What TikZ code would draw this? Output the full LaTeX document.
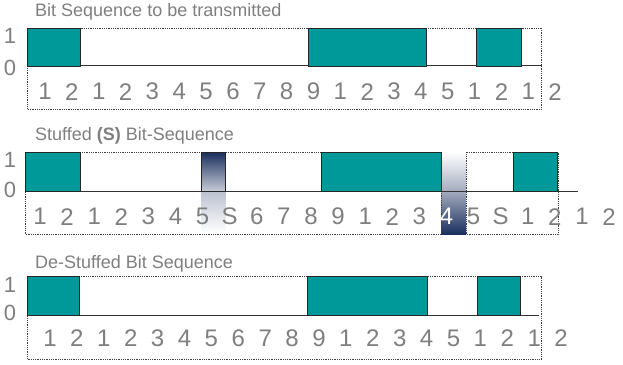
\documentclass[tikz,border=0pt]{standalone}
\usepackage{fontspec}
\setmainfont{Liberation Sans}
\definecolor{tealc}{HTML}{009999}
\definecolor{txtgray}{HTML}{7F7F7F}
\definecolor{navyc}{HTML}{1B2F5E}
\begin{document}
\begin{tikzpicture}[x=1pt,y=-1pt,
  frame/.style={draw=black!75, densely dotted, line width=0.8pt},
  baseln/.style={draw=black!80, line width=1pt},
  bitbox/.style={fill=tealc, draw=black!85, line width=1pt},
  digit/.style={text=txtgray, font=\fontsize{24}{24}\selectfont, inner sep=0pt},
  lvl/.style={text=txtgray, font=\fontsize{22}{22}\selectfont, inner sep=0pt},
  ttl/.style={text=txtgray, font=\fontsize{18}{18}\selectfont, inner sep=0pt, anchor=base west}]
\useasboundingbox (0,0) rectangle (623,364);

% ---------- Panel 1 ----------
\node[ttl] (t1) at (35,16.8) {Bit Sequence to be transmitted};
\draw[frame] (27.7,28.3) rectangle (541.7,109);
\draw[baseln] (27.7,65.5) -- (541.7,65.5);
\draw[bitbox] (27.7,28.3) rectangle (80.7,66);
\draw[bitbox] (308.3,28.3) rectangle (426.7,66);
\draw[bitbox] (476.7,28.3) rectangle (521,66);
\node[lvl] (p1one) at (10,36) {1};
\node[lvl] (p1zero) at (10,67.5) {0};
\foreach \d [count=\i from 0] in {1,2,1,2,3,4,5,6,7,8,9,1,2,3,4,5,1,2,1,2}
  \node[digit] (a\i) at (45+26.85*\i,91.7) {\d};

% ---------- Panel 2 ----------
\node[ttl] (t2) at (35,140.7) {Stuffed \textbf{(S)} Bit-Sequence};
\draw[frame] (25,152.3) rectangle (558.7,234.3);
\shade[top color=navyc, bottom color=navyc!25!white] (201,152.3) rectangle (225.7,191);
\shade[top color=navyc!30!white, bottom color=white] (201,191) rectangle (225.7,233);
\shade[top color=white, bottom color=navyc!40!white] (441.7,152.3) rectangle (466,191);
\shade[top color=navyc!40!white, bottom color=navyc] (441.7,191) rectangle (466,234.3);
\draw[frame] (466,152.3) -- (466,234.3);
\draw[frame] (441.7,191) -- (441.7,234.3);
\draw[baseln] (25,191) -- (578,191);
\draw[draw=black!85, line width=1pt] (201,152.3) rectangle (225.7,191);
\draw[bitbox] (25,152.3) rectangle (80,191);
\draw[bitbox] (321.7,152.3) rectangle (441.7,191);
\draw[bitbox] (513.3,152.3) rectangle (557.7,191);
\node[lvl] (p2one) at (10,160) {1};
\node[lvl] (p2zero) at (10,189.5) {0};
\foreach \d/\c [count=\i from 0] in {1/txtgray,2/txtgray,1/txtgray,2/txtgray,3/txtgray,4/txtgray,5/txtgray,S/txtgray,6/txtgray,7/txtgray,8/txtgray,9/txtgray,1/txtgray,2/txtgray,3/txtgray,4/white,5/txtgray,S/txtgray,1/txtgray,2/txtgray,1/txtgray,2/txtgray}
  \node[digit, text=\c] (b\i) at (40+27.1*\i,216.7) {\d};

% ---------- Panel 3 ----------
\node[ttl] (t3) at (35,268.3) {De-Stuffed Bit Sequence};
\draw[frame] (27,276.7) rectangle (541.7,359);
\draw[baseln] (27,315) -- (539,315);
\draw[bitbox] (27,276.7) rectangle (79.3,315.5);
\draw[bitbox] (307.7,276.7) rectangle (427.7,315.5);
\draw[bitbox] (477.3,276.7) rectangle (520.7,315.5);
\node[lvl] (p3one) at (10,285) {1};
\node[lvl] (p3zero) at (10,313) {0};
\foreach \d [count=\i from 0] in {1,2,1,2,3,4,5,6,7,8,9,1,2,3,4,5,1,2,1,2}
  \node[digit] (c\i) at (50+26.9*\i,338.3) {\d};
\end{tikzpicture}
\end{document}
